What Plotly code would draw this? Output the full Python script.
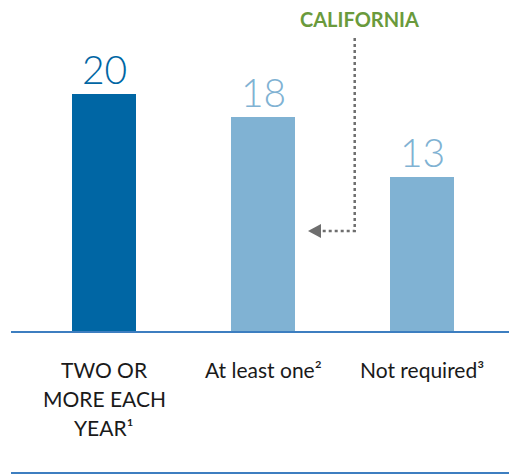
import plotly.graph_objects as go

# Survey counts by category
categories = ["TWO OR<br>MORE EACH<br>YEAR¹", "At least one²", "Not required³"]
values = [20, 18, 13]
bar_colors = ["#0066A4", "#80B2D3", "#80B2D3"]
callout_label = "CALIFORNIA"
callout_index = 1

W, H = 509, 475
x_pos = list(range(len(categories)))

# axis scaling: bar centres 159 px apart, baseline at 332 px, 11.92 px per unit
px_per_cat = 159.0
x0_px = 104.0
px_per_unit = 11.92
base_px = 332.0

x_range = [-x0_px / px_per_cat, (W - x0_px) / px_per_cat]
y_range = [-(H - base_px) / px_per_unit, base_px / px_per_unit]


def xd(px):
    return (px - x0_px) / px_per_cat


def yd(py):
    return (base_px - py) / px_per_unit


fig = go.Figure()
fig.add_trace(go.Bar(
    x=x_pos, y=values, width=64 / px_per_cat,
    marker=dict(color=bar_colors, line=dict(width=0)),
    hoverinfo="skip",
))

font_family = "Lato, 'Open Sans', sans-serif"
annotations = []

# value labels above the bars
for xi, v, c in zip(x_pos, values, bar_colors):
    annotations.append(dict(
        x=xi, y=v, xref="x", yref="y", text=str(v), showarrow=False,
        yanchor="bottom", yshift=0,
        font=dict(family=font_family, size=39, color=c, weight=300),
    ))

# category labels, one annotation per line
for xi, cat in zip(x_pos, categories):
    for li, line in enumerate(cat.split("<br>")):
        annotations.append(dict(
            x=xi, y=yd(369 + li * 29), xref="x", yref="y", text=line,
            showarrow=False, yanchor="middle",
            font=dict(family=font_family, size=21, color="#1a1a1a"),
        ))

# callout title
annotations.append(dict(
    x=xd(359), y=yd(19), xref="x", yref="y", text="<b>" + callout_label + "</b>",
    showarrow=False, yanchor="middle",
    font=dict(family=font_family, size=20, color="#6A9A3C"),
))

line_color = "#3D7EC0"
shapes = [
    # baseline
    dict(type="line", xref="paper", yref="y", x0=11 / W, x1=1, y0=0, y1=0,
         line=dict(color=line_color, width=2)),
    # bottom rule
    dict(type="line", xref="paper", yref="y", x0=11 / W, x1=1,
         y0=yd(473), y1=yd(473), line=dict(color=line_color, width=2)),
]

# dotted elbow connector pointing at the callout bar
vx, top_y, elbow_y = xd(354.7), yd(38), yd(231)
tip_x, head_base_x = xd(308), xd(321)
shapes.append(dict(
    type="path", xref="x", yref="y",
    path=f"M {vx},{top_y} L {vx},{elbow_y} L {head_base_x},{elbow_y}",
    line=dict(color="#6E6E6E", width=2.5, dash="dot"),
))
half = 7 / px_per_unit
shapes.append(dict(
    type="path", xref="x", yref="y",
    path=f"M {tip_x},{elbow_y} L {head_base_x},{elbow_y + half} L {head_base_x},{elbow_y - half} Z",
    fillcolor="#6E6E6E", line=dict(width=0),
))

fig.update_layout(
    width=W, height=H,
    margin=dict(l=0, r=0, t=0, b=0),
    paper_bgcolor="white", plot_bgcolor="white",
    showlegend=False,
    xaxis=dict(range=x_range, visible=False, fixedrange=True),
    yaxis=dict(range=y_range, visible=False, fixedrange=True),
    annotations=annotations,
    shapes=shapes,
    bargap=0,
)

fig.write_html("out.html", config={"displayModeBar": False})
